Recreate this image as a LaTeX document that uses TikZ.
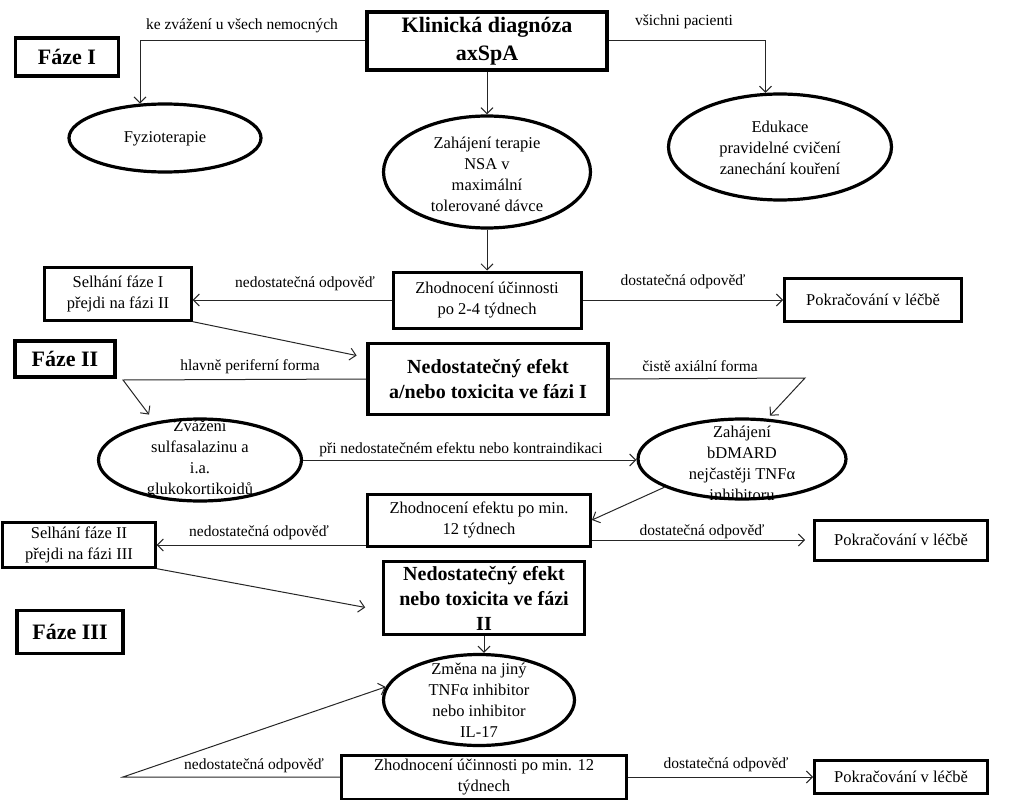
\documentclass[tikz,border=0pt]{standalone}
\usepackage{fontspec}
\setmainfont{Liberation Serif}
\usetikzlibrary{shapes.geometric,arrows.meta}

\begin{document}
\begin{tikzpicture}[x=1pt,y=-1pt,
    box/.style={draw, line width=3pt, align=center, inner sep=1pt, font=\fontsize{16.5}{21}\selectfont},
    thinbox/.style={box, line width=2.3pt},
    bigbox/.style={box, line width=3.2pt, font=\bfseries\fontsize{20}{25}\selectfont},
    oval/.style={draw, ellipse, line width=3.2pt, inner sep=0pt},
    txt/.style={align=center, font=\fontsize{16.5}{21}\selectfont},
    lbl/.style={font=\fontsize{15.5}{18}\selectfont},
    conn/.style={draw=black!85, line width=1pt, -{Straight Barb[length=6pt,width=12pt]}}
]

    % Page frame
    \useasboundingbox (0,0) rectangle (1031,800);

    % Bends of the connectors
    \coordinate (bendA) at (123,380);
    \coordinate (bendB) at (805,378);
    \coordinate (bendC) at (123,777);

    % Phase boxes
    \foreach \n/\x/\y/\w/\h/\t in {1/67/57/103/38/I, 2/65/359/100/36/II, 3/70/632/106/43/III}
        \node[box, line width=3.2pt, font=\bfseries\fontsize{22}{26}\selectfont,
              minimum width=\w pt, minimum height=\h pt] (faze\n) at (\x,\y) {Fáze \t};

    % Phase I
    \node[box, line width=3.4pt, font=\bfseries\fontsize{22}{28}\selectfont,
          minimum width=240pt, minimum height=58pt] (diag) at (487,41) {Klinická diagnóza\\axSpA};
    \node[oval, minimum width=192pt, minimum height=68pt] (fyzio) at (165,138) {};
    \node[txt] (fyzio-t) at (165,139) {Fyzioterapie};
    \node[oval, minimum width=207pt, minimum height=112pt] (nsa) at (487,172) {};
    \node[txt] (nsa-t) at (487,174) {Zahájení terapie\\NSA v\\maximální\\tolerované dávce};
    \node[oval, minimum width=223pt, minimum height=106pt] (edu) at (780,147) {};
    \node[txt] (edu-t) at (780,148) {Edukace\\pravidelné cvičení\\zanechání kouření};
    \node[box, minimum width=188pt, minimum height=56pt] (zhod1) at (487,300) {Zhodnocení účinnosti\\po 2-4 týdnech};
    \node[thinbox, minimum width=147pt, minimum height=53pt] (selh1) at (118,294) {Selhání fáze I\\přejdi na fázi II};
    \node[box, minimum width=177pt, minimum height=43pt] (pokr1) at (873,300) {Pokračování v léčbě};

    % Phase II
    \node[bigbox, minimum width=240pt, minimum height=71pt] (nedo1) at (488,379) {Nedostatečný efekt\\a/nebo toxicita ve fázi I};
    \node[oval, minimum width=203pt, minimum height=82pt] (zvaz) at (200,460) {};
    \node[txt] (zvaz-t) at (200,459) {Zvážení\\sulfasalazinu a\\i.a.\\glukokortikoidů};
    \node[oval, minimum width=208pt, minimum height=80pt] (bdmard) at (742,459) {};
    \node[txt] (bdmard-t) at (742,463) {Zahájení\\bDMARD\\nejčastěji TNFα\\inhibitoru};
    \node[box, minimum width=223pt, minimum height=52pt] (zhod2) at (479,520) {Zhodnocení efektu po min.\\12 týdnech};
    \node[thinbox, minimum width=153pt, minimum height=45pt] (selh2) at (79,545) {Selhání fáze II\\přejdi na fázi III};
    \node[box, minimum width=173pt, minimum height=40pt] (pokr2) at (901,540) {Pokračování v léčbě};

    % Phase III
    \node[bigbox, minimum width=201pt, minimum height=73pt] (nedo2) at (484,598) {Nedostatečný efekt\\nebo toxicita ve fázi\\II};
    \node[oval, minimum width=191pt, minimum height=91pt] (zmena) at (479,700) {};
    \node[txt] (zmena-t) at (479,700) {Změna na jiný\\TNFα inhibitor\\nebo inhibitor\\IL-17};
    \node[box, minimum width=285pt, minimum height=44pt] (zhod3) at (484,777) {Zhodnocení účinnosti po min. 12\\týdnech};
    \node[box, minimum width=173pt, minimum height=33pt] (pokr3) at (901,777) {Pokračování v léčbě};

    % Connectors of phase I
    \draw[conn] (diag.west) -| (fyzio.126);
    \draw[conn] (diag.east) -| (edu.105);
    \draw[conn] (diag.south) -- (nsa.north);
    \draw[conn] (nsa.south) -- (zhod1.north);
    \draw[conn] (zhod1.west) -- (zhod1.west -| selh1.east);
    \draw[conn] (zhod1.east) -- (pokr1.west);
    \draw[conn, shorten >=10pt] (selh1.south east) -- (nedo1.170);

    % Connectors of phase II
    \draw[conn, shorten >=9pt] (nedo1.west) -- (bendA) -- (zvaz.140);
    \draw[conn, shorten >=4pt] (nedo1.east) -- (bendB) -- (bdmard.58);
    \draw[conn] (zvaz.east) -- (zvaz.east -| bdmard.west);
    \draw[conn] (bdmard.200) -- (zhod2.east);
    \draw[conn] (selh2.east -| zhod2.west) -- (selh2.east);
    \draw[conn, shorten >=8pt] (pokr2.west -| zhod2.east) -- (pokr2.west);
    \draw[conn, shorten >=17pt] (selh2.south east) -- (nedo2.187);

    % Connectors of phase III
    \draw[conn] (nedo2.south) -- (nedo2.south |- zmena.north);
    \draw[conn] (zhod3.west) -- (bendC) -- (zmena.172);
    \draw[conn] (zhod3.east) -- (pokr3.west);

    % Labels on the connectors
    \node[lbl] (l1) at (242,26) {ke zvážení u všech nemocných};
    \node[lbl] (l2) at (684,22) {všichni pacienti};
    \node[lbl] (l3) at (305,284) {nedostatečná odpověď};
    \node[lbl] (l4) at (683,282) {dostatečná odpověď};
    \node[lbl] (l5) at (250,367) {hlavně periferní forma};
    \node[lbl] (l6) at (700,366) {čistě axiální forma};
    \node[lbl] (l7) at (461,450) {při nedostatečném efektu nebo kontraindikaci};
    \node[lbl] (l8) at (259,533) {nedostatečná odpověď};
    \node[lbl] (l9) at (702,532) {dostatečná odpověď};
    \node[lbl] (l10) at (254,766) {nedostatečná odpověď};
    \node[lbl] (l11) at (726,765) {dostatečná odpověď};

\end{tikzpicture}
\end{document}
